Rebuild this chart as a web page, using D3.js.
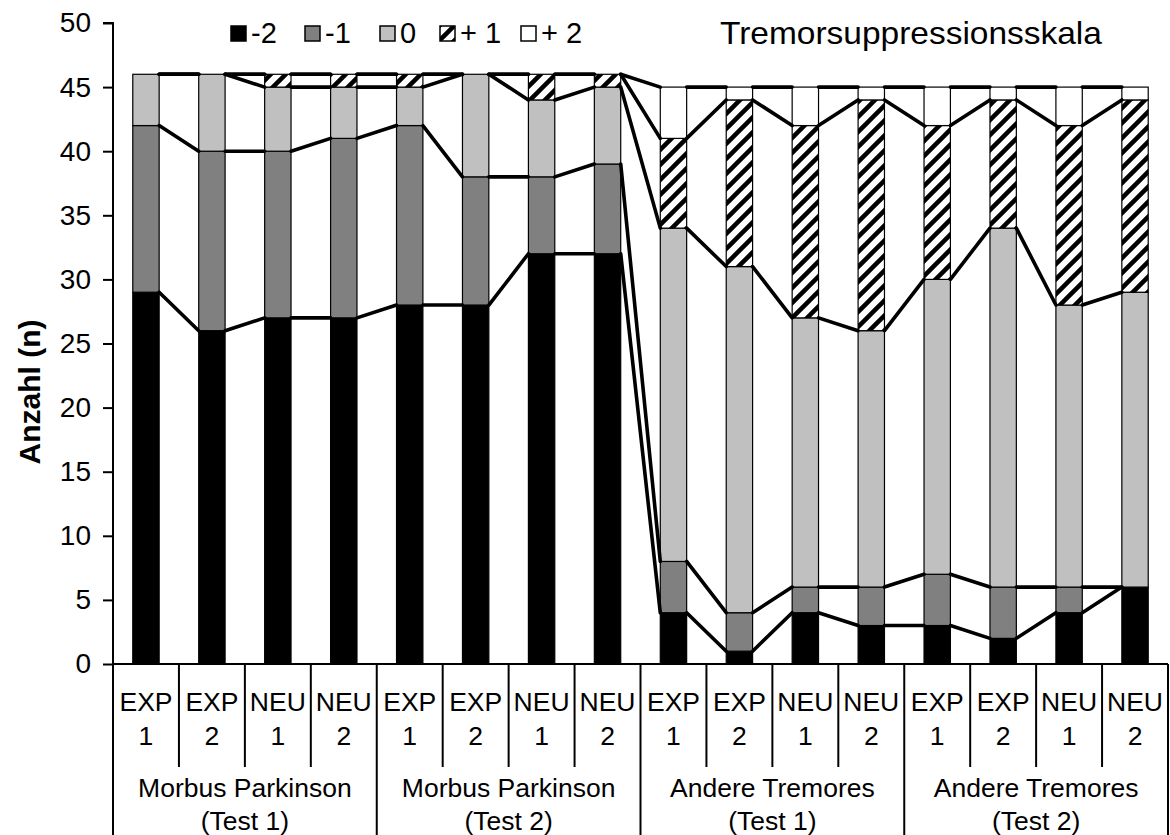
<!DOCTYPE html>
<html>
<head>
<meta charset="utf-8">
<script src="https://cdn.jsdelivr.net/npm/d3@7"></script>
<style>
  html, body { margin: 0; padding: 0; background: #fff; }
  svg { display: block; font-family: "Liberation Sans", Arial, sans-serif; }
</style>
</head>
<body>
<svg id="chart" width="1170" height="835"></svg>
<script>
// ---- data ----
const groups = ["Morbus Parkinson|(Test 1)", "Morbus Parkinson|(Test 2)", "Andere Tremores|(Test 1)", "Andere Tremores|(Test 2)"];
const categories = ["EXP|1", "EXP|2", "NEU|1", "NEU|2", "EXP|1", "EXP|2", "NEU|1", "NEU|2",
                    "EXP|1", "EXP|2", "NEU|1", "NEU|2", "EXP|1", "EXP|2", "NEU|1", "NEU|2"];
const seriesNames = ["-2", "-1", "0", "+ 1", "+ 2"];
const valMinus2 = [29, 26, 27, 27, 28, 28, 32, 32, 4, 1, 4, 3, 3, 2, 4, 6];
const valMinus1 = [13, 14, 13, 14, 14, 10, 6, 7, 4, 3, 2, 3, 4, 4, 2, 0];
const valZero   = [4, 6, 5, 4, 3, 8, 6, 6, 26, 27, 21, 20, 23, 28, 22, 23];
const valPlus1  = [0, 0, 1, 1, 1, 0, 2, 1, 7, 13, 15, 18, 12, 10, 14, 15];
const valPlus2  = [0, 0, 0, 0, 0, 0, 0, 0, 4, 1, 3, 1, 3, 1, 3, 1];
const yTicks = [0, 5, 10, 15, 20, 25, 30, 35, 40, 45, 50];
const legendTitle = "Tremorsuppressionsskala";

// ---- layout ----
const svg = d3.select("#chart");
const mLeft = 113, mRight = 1168, mTop = 23, mBottom = 664;
const fills = ["#000000", "#808080", "#c0c0c0", "url(#hatch)", "#ffffff"];
const FS = 26.5;

const defs = svg.append("defs");
const P = 15;
const pat = defs.append("pattern").attr("id", "hatch")
  .attr("patternUnits", "userSpaceOnUse").attr("width", P).attr("height", P);
pat.append("rect").attr("width", P).attr("height", P).attr("fill", "#fff");
pat.append("path").attr("d", `M-4,4 L4,-4 M0,${P} L${P},0 M${P - 4},${P + 4} L${P + 4},${P - 4}`)
  .attr("stroke", "#000").attr("stroke-width", 4.5);

const x = d3.scaleBand().domain(d3.range(categories.length)).range([mLeft, mRight]).padding(0);
const bw = x.bandwidth() * 0.4;
const y = d3.scaleLinear().domain([0, 50]).range([mBottom, mTop]);

const rows = categories.map((c, i) => ({ i, v: [valMinus2[i], valMinus1[i], valZero[i], valPlus1[i], valPlus2[i]] }));
const stack = d3.stack().keys([0, 1, 2, 3, 4]).value((d, k) => d.v[k]);
const stacked = stack(rows);

// bars
stacked.forEach((layer, k) => {
  svg.append("g").selectAll("rect").data(layer.filter(d => d[1] - d[0] > 0)).enter().append("rect")
    .attr("x", d => x(d.data.i) + x.bandwidth() / 2 - bw / 2)
    .attr("y", d => y(d[1]))
    .attr("width", bw)
    .attr("height", d => y(d[0]) - y(d[1]))
    .attr("fill", fills[k])
    .attr("stroke", "#000").attr("stroke-width", 1.2);
});

// series lines
stacked.forEach((layer, k) => {
  const g = svg.append("g");
  for (let i = 0; i < layer.length - 1; i++) {
    g.append("line")
      .attr("x1", x(i) + x.bandwidth() / 2 + bw / 2)
      .attr("y1", y(layer[i][1]))
      .attr("x2", x(i + 1) + x.bandwidth() / 2 - bw / 2)
      .attr("y2", y(layer[i + 1][1]))
      .attr("stroke", "#000").attr("stroke-width", 3.6).attr("stroke-linecap", "round");
  }
});

// y axis
const yAxis = d3.axisLeft(y).tickValues(yTicks).tickSize(10).tickPadding(12);
const ya = svg.append("g").attr("transform", `translate(${mLeft},0)`).call(yAxis);
ya.select(".domain").attr("stroke", "#000").attr("stroke-width", 2).attr("d", `M-10,${mTop}H0V${mBottom}`);
ya.selectAll(".tick line").attr("stroke", "#000").attr("stroke-width", 2);
ya.selectAll(".tick text").attr("font-size", 28).attr("fill", "#000").attr("font-family", "Liberation Sans, Arial, sans-serif");

// x axis line
svg.append("line").attr("x1", mLeft).attr("x2", mRight).attr("y1", mBottom).attr("y2", mBottom)
  .attr("stroke", "#000").attr("stroke-width", 2);

// category dividers
const xg = svg.append("g");
for (let i = 0; i <= categories.length; i++) {
  const xx = i < categories.length ? x(i) : mRight;
  const major = i % 4 === 0;
  xg.append("line").attr("x1", xx).attr("x2", xx).attr("y1", mBottom).attr("y2", major ? 835 : 767)
    .attr("stroke", "#000").attr("stroke-width", 2);
}
categories.forEach((c, i) => {
  const [a, b] = c.split("|");
  const cx = x(i) + x.bandwidth() / 2;
  xg.append("text").attr("x", cx).attr("y", 711).attr("text-anchor", "middle").attr("font-size", FS).text(a);
  xg.append("text").attr("x", cx).attr("y", 745).attr("text-anchor", "middle").attr("font-size", FS).text(b);
});
groups.forEach((g, j) => {
  const [a, b] = g.split("|");
  const cx = (x(j * 4) + (j * 4 + 4 < categories.length ? x(j * 4 + 4) : mRight)) / 2;
  xg.append("text").attr("x", cx).attr("y", 797).attr("text-anchor", "middle").attr("font-size", FS).text(a);
  xg.append("text").attr("x", cx).attr("y", 830).attr("text-anchor", "middle").attr("font-size", FS).text(b);
});

// y title
svg.append("text").attr("transform", "translate(40,392) rotate(-90)")
  .attr("text-anchor", "middle").attr("font-size", 30).attr("font-weight", "bold").text("Anzahl (n)");

// legend
const legX = [231, 305, 380, 440, 521];
const lg = svg.append("g");
seriesNames.forEach((n, k) => {
  lg.append("rect").attr("x", legX[k]).attr("y", 26).attr("width", 15).attr("height", 15)
    .attr("fill", fills[k]).attr("stroke", "#000").attr("stroke-width", 1.5);
  lg.append("text").attr("x", legX[k] + 20).attr("y", 43).attr("font-size", 29).text(n);
});
lg.append("text").attr("transform", "translate(720,44) scale(1.08,1)").attr("font-size", 31).text(legendTitle);
</script>
</body>
</html>
